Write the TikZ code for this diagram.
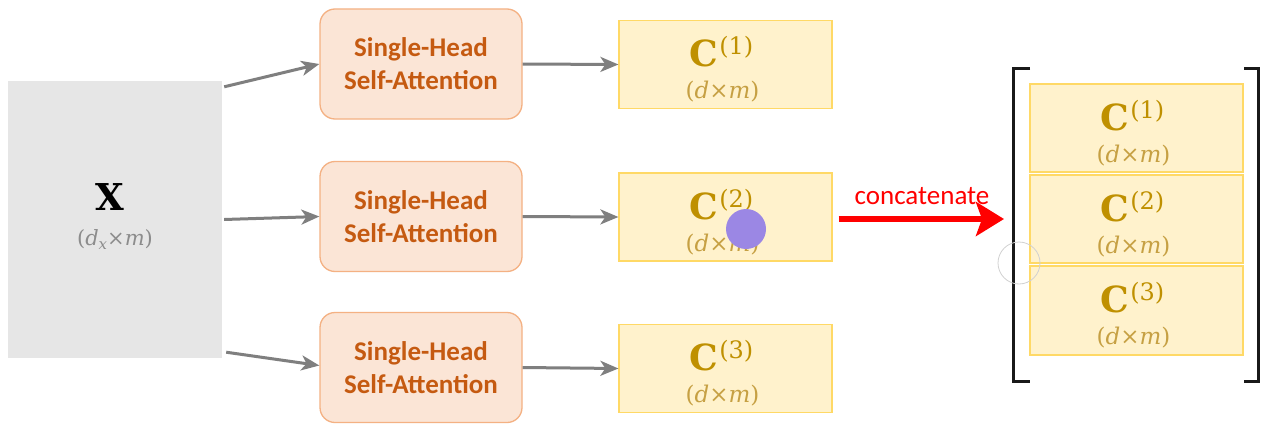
\documentclass[tikz,border=0pt]{standalone}
\usepackage{fontspec}
\newfontfamily\carlito{Carlito}
\newfontfamily\dserif{DejaVu Serif}
\usetikzlibrary{arrows.meta}
\definecolor{xfill}{HTML}{E6E6E6}
\definecolor{xgrey}{HTML}{8C8C8C}
\definecolor{safill}{HTML}{FBE5D6}
\definecolor{saborder}{HTML}{F4B183}
\definecolor{satext}{HTML}{C55A11}
\definecolor{cfill}{HTML}{FFF2CC}
\definecolor{cborder}{HTML}{FFD966}
\definecolor{cgold}{HTML}{BF9000}
\definecolor{cgoldlight}{HTML}{C6A043}
\definecolor{arrgrey}{HTML}{7F7F7F}
\definecolor{cursor}{HTML}{9B87E4}
\tikzset{
  sabox/.style={draw=saborder, fill=safill, rounded corners=15pt, minimum width=202pt,
    minimum height=110pt, line width=1.3pt, text=satext, align=center,
    font=\carlito\bfseries\fontsize{27}{33}\selectfont, inner sep=0pt},
  cbox/.style={draw=cborder, fill=cfill, minimum width=213pt, minimum height=88pt,
    line width=1.2pt, inner sep=0pt},
  ctext/.style={anchor=base, inner sep=0pt, text=cgold, font=\dserif\fontsize{36}{36}\selectfont},
  dtext/.style={anchor=base, inner sep=0pt, text=cgoldlight, font=\dserif\fontsize{23}{23}\selectfont},
  arr/.style={-{Stealth[length=18pt,width=15pt,inset=5pt]}, line width=3pt, draw=arrgrey},
  redarr/.style={-{Stealth[length=28pt,width=34pt,inset=6pt]}, line width=6pt, draw=red},
  bracket/.style={line width=3pt, draw=black!90, line cap=butt},
}
\newcommand{\Cname}[1]{\textbf{C}\kern1pt\raisebox{12pt}{\fontsize{24}{24}\selectfont(#1)}}
\newcommand{\Dim}{(\textit{d}×\textit{m})}
\begin{document}
\begin{tikzpicture}[x=1pt,y=-1pt]
\useasboundingbox (0,0) rectangle (1268,428);
\fill[white] (0,0) rectangle (1268,428);
% input X
\node[fill=xfill, minimum width=214pt, minimum height=277pt, inner sep=0pt] (X) at (115,219.5) {};
\node[anchor=base, inner sep=0pt, font=\dserif\fontsize{37}{37}\selectfont] (Xn) at ([xshift=-5pt,yshift=9.5pt]X.center) {\textbf{X}};
\node[anchor=base, inner sep=0pt, text=xgrey, font=\dserif\fontsize{21}{21}\selectfont] (Xd) at ([yshift=-25.5pt]X.center) {(\textit{d}\raisebox{-4pt}{\fontsize{15}{15}\selectfont\textit{x}}×\textit{m})};
% attention heads
\node[sabox] (sa1) at (421,64) {Single-Head\\Self-Attention};
\node[sabox] (sa2) at (421,216.5) {Single-Head\\Self-Attention};
\node[sabox] (sa3) at (421,367.5) {Single-Head\\Self-Attention};
% outputs
\node[cbox] (c1) at (725.5,64.5) {};
\node[cbox] (c2) at (725.5,217) {};
\node[cbox] (c3) at (725.5,368.5) {};
% stacked
\node[cbox] (s1) at (1136.5,128) {};
\node[cbox] (s2) at (1136.5,219) {};
\node[cbox, minimum height=89pt] (s3) at (1136.5,310.5) {};
\foreach \b/\i in {c1/1,c2/2,c3/3,s1/1,s2/2,s3/3}{
  \node[ctext] (\b n) at ([xshift=-4pt,yshift=-2pt]\b.center) {\Cname{\i}};
  \node[dtext] (\b d) at ([xshift=-3pt,yshift=-34pt]\b.center) {\Dim};
}
% brackets
\coordinate (lb1) at (1030,68);
\coordinate (lb2) at (1030,381);
\coordinate (rb1) at (1244,68);
\coordinate (rb2) at (1244,381);
\draw[bracket] (lb1) -- (1013.5,68) -- (1013.5,381) -- (lb2);
\draw[bracket] (rb1) -- (1258.5,68) -- (1258.5,381) -- (rb2);
% arrows
\draw[arr] ([xshift=2pt,yshift=-6pt]X.north east) -- (sa1.west);
\draw[arr] ([xshift=2pt]X.east) -- (sa2.west);
\draw[arr] ([xshift=4pt,yshift=6pt]X.south east) -- ([yshift=2pt]sa3.west);
\draw[arr] (sa1.east) -- (c1.west);
\draw[arr] (sa2.east) -- (c2.west);
\draw[arr] (sa3.east) -- (c3.west);
\coordinate (cat) at (1004,219);
\draw[redarr] ([xshift=6pt,yshift=-2pt]c2.east) -- (cat);
\node[text=red, font=\carlito\fontsize{27}{27}\selectfont, inner sep=0pt] (catl) at (922,196) {concatenate};
% recording artifacts
\fill[cursor] (746,229) circle (20);
\draw[black!18, line width=0.8pt] (1019,263) circle (21);
\end{tikzpicture}
\end{document}
